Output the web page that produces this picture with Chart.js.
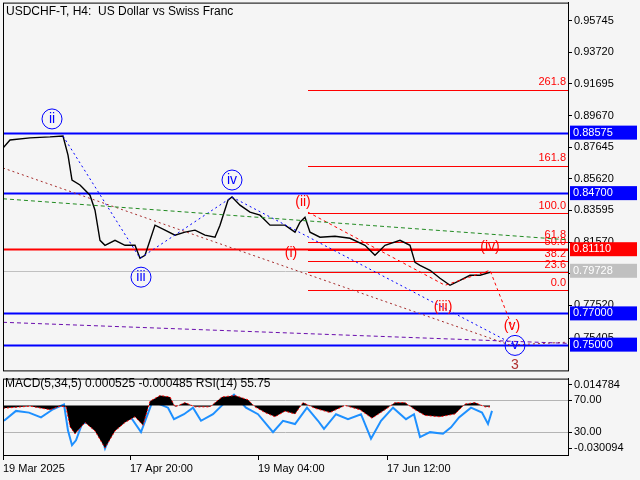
<!DOCTYPE html>
<html>
<head>
<meta charset="utf-8">
<script src="https://cdn.jsdelivr.net/npm/chart.js@4"></script>
<style>
  body { margin: 0; background: #f5f5f5; overflow: hidden; }
  canvas { position: absolute; left: 0; }
</style>
</head>
<body>
<canvas id="main" width="640" height="385" style="top:-6px"></canvas>
<canvas id="sub" width="640" height="110" style="top:370px"></canvas>
<script>
// price path, x in bar position, y in price
const priceX = [3,10,30,50,63,68,72,80,90,95,100,105,115,125,135,140,145,150,155,165,175,185,195,205,215,220,228,232,240,250,260,270,285,295,300,305,310,320,335,350,365,375,385,400,410,415,420,430,440,450,460,470,480,490];
const priceY = [0.8759,0.8810,0.8824,0.8830,0.8836,0.8714,0.8554,0.8522,0.8457,0.8361,0.8168,0.8136,0.8168,0.8136,0.8136,0.8053,0.8072,0.8168,0.8265,0.8233,0.8201,0.8220,0.8233,0.8201,0.8188,0.8265,0.8425,0.8445,0.8393,0.8348,0.8329,0.8265,0.8265,0.8220,0.8284,0.8316,0.8220,0.8188,0.8194,0.8181,0.8136,0.8072,0.8136,0.8168,0.8136,0.8027,0.8008,0.7976,0.7925,0.7880,0.7912,0.7944,0.7944,0.7963];

const priceTicks = [0.95745,0.93720,0.91695,0.89670,0.87645,0.85620,0.83595,0.81570,0.79545,0.77520,0.75405];
const blueLevels = [0.88575,0.84700,0.77000,0.75000];
const redLevel = 0.81110;
const lastPrice = 0.79728;

const fibNames = ['261.8','161.8','100.0','61.8','50.0','38.2','23.6','0.0'];
const fibValues = [0.91317,0.86441,0.83425,0.81540,0.81066,0.80345,0.79639,0.78485];
const fibStart = 308;

const greenX = [3,568], greenY = [0.8434,0.8171];
const brownX = [3,510,568], brownY = [0.8631,0.7497,0.7516];
const purpleX = [3,568], purpleY = [0.7643,0.7508];
const blueWaveX = [63,140,232,515], blueWaveY = [0.8836,0.8053,0.8445,0.7497];
const redWaveX = [308,445,490,513], redWaveY = [0.8348,0.7880,0.7976,0.7600];

const blueWaveNames = ['ii','iii','iv','v'];
const blueWaveLabelX = [52,141,232,515];
const blueWaveLabelY = [0.8945,0.7932,0.8554,0.7495];
const redWaveNames = ['(ii)','(i)','(iii)','(iv)','(v)'];
const redWaveLabelX = [303,291,443,490,512];
const redWaveLabelY = [0.8413,0.8086,0.7739,0.8124,0.7617];

// indicator panel
const macdX = [3,30,50,60,66,70,75,85,95,105,115,125,135,143,150,160,170,175,185,195,210,222,235,248,255,265,275,285,295,303,315,330,345,360,372,385,395,405,415,425,440,455,465,475,485,490];
const macdY = [-0.002,-0.0005,-0.003,-0.0005,-0.001,-0.015,-0.020,-0.012,-0.018,-0.030,-0.018,-0.012,-0.008,-0.014,0.003,0.007,0.006,-0.001,0.002,-0.001,-0.001,0.006,0.007,0.004,-0.001,-0.005,-0.008,-0.004,-0.006,0.002,-0.002,-0.005,0,-0.003,-0.009,-0.003,0.002,0.002,-0.003,-0.007,-0.008,-0.006,0.001,0.002,-0.001,-0.001];
const rsiX = [4,16,29,41,53,64,68,72,76,82,90,98,105,111,119,131,141,152,160,168,174,184,193,201,213,223,234,246,258,273,283,295,307,318,324,336,348,361,371,381,393,406,414,420,430,443,451,459,471,482,488,492];
const rsiY = [44.5,56.7,54.6,48.6,58.7,64.8,32.4,14.2,20.3,40.5,44.5,40.5,10.2,28.4,40.5,48.6,30.4,66.8,64.8,60.7,46.5,52.6,60.7,44.5,52.6,64.8,76.9,60.7,52.6,30.4,44.5,40.5,60.7,44.5,34.4,52.6,46.5,52.6,22.3,44.5,60.7,46.5,52.6,24.3,30.4,28.4,36.4,48.6,60.7,54.6,40.5,56.7];
const subTickValues = [89.4,70,30,10.6];
const subTickLabels = ['0.014784','70.00','30.00','-0.030094'];
const dateX = [3,130,258,387];
const dateLabels = ['19 Mar 2025','17 Apr 20:00','19 May 04:00','17 Jun 12:00'];

const FONT = '11px "Liberation Sans", "DejaVu Sans", sans-serif';
Chart.defaults.font.family = '"Liberation Sans", "DejaVu Sans", sans-serif';
Chart.defaults.font.size = 11;
Chart.defaults.color = '#000';

const pts = (xs, ys) => xs.map((x, i) => ({ x: x, y: ys[i] }));
const line = (data, color, width, dash) => ({
  data: data, borderColor: color, borderWidth: width, borderDash: dash || [],
  pointRadius: 0, tension: 0, fill: false,
});

// horizontal levels, fib, wave labels, level boxes
const overlay = {
  id: 'overlay',
  beforeDatasetsDraw(chart) {
    const { ctx, chartArea: a, scales: { x, y } } = chart;
    ctx.save();
    const hline = (v, color, w, x0) => {
      const py = Math.round(y.getPixelForValue(v)) + 0.5;
      ctx.strokeStyle = color; ctx.lineWidth = w;
      ctx.beginPath(); ctx.moveTo(x0, py); ctx.lineTo(a.right, py); ctx.stroke();
    };
    hline(lastPrice, '#c0c0c0', 1, a.left);
    blueLevels.forEach(v => hline(v, '#0000ff', 2, a.left));
    hline(redLevel, '#ff0000', 2, a.left);
    const fx = x.getPixelForValue(fibStart);
    ctx.font = FONT; ctx.textAlign = 'right'; ctx.textBaseline = 'bottom';
    fibValues.forEach((v, i) => {
      hline(v, '#ff0000', 1, fx);
      ctx.fillStyle = '#ff0000';
      ctx.fillText(fibNames[i], a.right - 2, y.getPixelForValue(v) - 2);
    });
    ctx.restore();
  },
  afterDatasetsDraw(chart) {
    const { ctx, scales: { x, y } } = chart;
    ctx.save();
    ctx.textAlign = 'center'; ctx.textBaseline = 'middle';
    ctx.font = '14px "Liberation Sans", sans-serif';
    blueWaveNames.forEach((t, i) => {
      const px = x.getPixelForValue(blueWaveLabelX[i]), py = y.getPixelForValue(blueWaveLabelY[i]);
      ctx.strokeStyle = '#0000ff'; ctx.lineWidth = 1;
      ctx.beginPath(); ctx.arc(px, py, 10, 0, Math.PI * 2); ctx.stroke();
      ctx.fillStyle = '#0000ff'; ctx.fillText(t, px, py);
    });
    redWaveNames.forEach((t, i) => {
      ctx.fillStyle = '#ff0000';
      ctx.fillText(t, x.getPixelForValue(redWaveLabelX[i]), y.getPixelForValue(redWaveLabelY[i]));
    });
    ctx.fillStyle = '#b03030';
    ctx.fillText('3', x.getPixelForValue(515), y.getPixelForValue(0.7367));
    ctx.font = '12px "Liberation Sans", sans-serif';
    ctx.textAlign = 'left'; ctx.fillStyle = '#000';
    ctx.fillText('USDCHF-T, H4:  US Dollar vs Swiss Franc', 6, 18);
    ctx.restore();
  },
  afterDraw(chart) {
    const { ctx, chartArea: a, scales: { y } } = chart;
    ctx.save();
    ctx.strokeStyle = '#000'; ctx.lineWidth = 1;
    ctx.strokeRect(a.left + 0.5, a.top + 0.5, a.width, a.height);
    const box = (v, bg) => {
      const py = y.getPixelForValue(v);
      ctx.fillStyle = bg; ctx.fillRect(a.right + 2, py - 7, 67, 14);
      ctx.fillStyle = '#fff'; ctx.font = FONT;
      ctx.textAlign = 'left'; ctx.textBaseline = 'middle';
      ctx.fillText(v.toFixed(5), a.right + 5, py);
    };
    blueLevels.forEach(v => box(v, '#0000ff'));
    box(redLevel, '#ff0000');
    box(lastPrice, '#c0c0c0');
    ctx.restore();
  },
};

new Chart(document.getElementById('main'), {
  type: 'line',
  data: {
    datasets: [
      line(pts(greenX, greenY), '#228b22', 1, [4, 3]),
      line(pts(purpleX, purpleY), '#6a0dad', 1, [4, 3]),
      line(pts(brownX, brownY), '#a52a2a', 1, [2, 3]),
      line(pts(blueWaveX, blueWaveY), '#0000ff', 1, [2, 3]),
      line(pts(redWaveX, redWaveY), '#ff0000', 1, [3, 3]),
      line(pts(priceX, priceY), '#000', 1.4),
    ],
  },
  options: {
    responsive: false, animation: false, devicePixelRatio: 1,
    layout: { padding: { left: 3, top: 3, bottom: 4, right: 0 } },
    plugins: { legend: { display: false }, tooltip: { enabled: false } },
    scales: {
      x: { type: 'linear', min: 3, max: 568, display: false },
      y: {
        position: 'right', min: 0.7335, max: 0.9690,
        afterBuildTicks: (s) => { s.ticks = priceTicks.map(v => ({ value: v })); },
        afterFit: (s) => { s.width = 72; },
        ticks: { callback: (v) => v.toFixed(5), padding: 2, autoSkip: false },
        grid: { drawOnChartArea: false, tickLength: 4, color: '#000' },
        border: { color: '#000' },
      },
    },
  },
  plugins: [overlay],
});

const subOverlay = {
  id: 'subOverlay',
  afterDraw(chart) {
    const { ctx, chartArea: a } = chart;
    ctx.save();
    ctx.strokeStyle = '#000'; ctx.lineWidth = 1;
    ctx.strokeRect(a.left + 0.5, a.top + 0.5, a.width, a.height);
    ctx.font = '12px "Liberation Sans", sans-serif'; ctx.fillStyle = '#000';
    ctx.textBaseline = 'middle';
    ctx.fillText('MACD(5,34,5) 0.000525 -0.000485 RSI(14) 55.75', 5, 14);
    ctx.restore();
  },
};

new Chart(document.getElementById('sub'), {
  type: 'line',
  data: {
    datasets: [
      { data: pts(macdX, macdY), yAxisID: 'ym', borderColor: '#ff0000', borderWidth: 1,
        borderDash: [2, 2], backgroundColor: '#000', fill: 'origin', pointRadius: 0, tension: 0 },
      { data: pts(rsiX, rsiY), yAxisID: 'yr', borderColor: '#1e90ff', borderWidth: 2,
        pointRadius: 0, tension: 0, fill: false },
    ],
  },
  options: {
    responsive: false, animation: false, devicePixelRatio: 1,
    layout: { padding: { left: 3, top: 3, bottom: 0, right: 0 } },
    plugins: { legend: { display: false }, tooltip: { enabled: false } },
    scales: {
      x: {
        type: 'linear', min: 3, max: 568,
        afterBuildTicks: (s) => { s.ticks = dateX.map(v => ({ value: v })); },
        afterFit: (s) => { s.height = 25; },
        ticks: { callback: (v) => dateLabels[dateX.indexOf(v)], maxRotation: 0, autoSkip: false, align: 'start', padding: 2 },
        grid: { drawOnChartArea: false, tickLength: 5, color: '#000' },
        border: { color: '#000' },
      },
      ym: { display: false, min: -0.034927, max: 0.018927 },
      yr: {
        position: 'right', min: 2.1, max: 96.7,
        afterBuildTicks: (s) => { s.ticks = subTickValues.map(v => ({ value: v })); },
        afterFit: (s) => { s.width = 72; },
        ticks: { callback: (v) => subTickLabels[subTickValues.indexOf(v)], padding: 2, autoSkip: false },
        grid: {
          color: (c) => (c.tick && (c.tick.value === 70 || c.tick.value === 30)) ? '#b4b4b4' : 'rgba(0,0,0,0)',
          tickColor: '#000', tickLength: 4, borderDash: [4, 3],
        },
        border: { color: '#000' },
      },
    },
  },
  plugins: [subOverlay],
});
</script>
</body>
</html>
